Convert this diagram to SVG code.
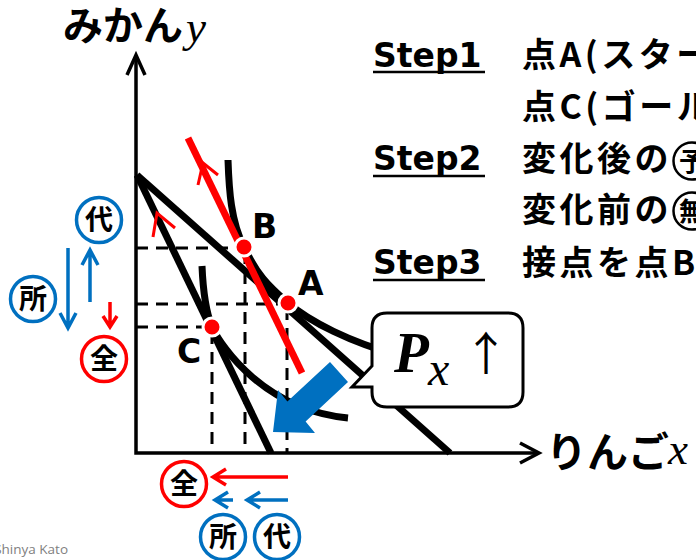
<svg xmlns="http://www.w3.org/2000/svg" width="696" height="560" viewBox="0 0 696 560">
<defs>
<style>
.ax{stroke:#000;stroke-width:3.5;fill:none}
.thick{stroke:#000;stroke-width:7;fill:none}
.dash{stroke:#000;stroke-width:3;stroke-dasharray:12 8;fill:none}
.rl{stroke:#FF0000;fill:none}
.bl{stroke:#0070C0;fill:none}
.step{font-family:"DejaVu Sans","Verdana",sans-serif;font-weight:bold;font-size:33px;fill:#000}
.row{font-family:"Noto Sans CJK JP",sans-serif;font-weight:bold;font-size:34px;letter-spacing:3.5px;fill:#000}
.lbl{font-family:"DejaVu Sans",sans-serif;font-weight:bold;font-size:33px;fill:#000}
.ctext{font-family:"Noto Sans CJK JP",sans-serif;font-weight:bold;font-size:28px;text-anchor:middle;fill:#000}
.dot{fill:#FF0000;stroke:#fff;stroke-width:3}
</style>
</defs>
<rect width="696" height="560" fill="#fff"/>

<g id="guides">
<path class="dash" d="M136,248 H240 M136,304 H284 M136,327 H208 M212,332 V453 M245,252 V453 M287,308 V453"/>
</g>

<g id="axes">
<path class="ax" d="M136,56 V453 H538"/>
<path class="ax" d="M127,75 L136,55 L145,75"/>
<path class="ax" d="M520,443 L539,453 L520,463"/>
<text x="63" y="40" font-family="'Noto Sans CJK JP',sans-serif" font-weight="bold" font-size="40">みかん</text>
<text x="186" y="42" font-family="'Liberation Serif',serif" font-style="italic" font-size="45">y</text>
<text x="546" y="467" font-family="'Noto Sans CJK JP',sans-serif" font-weight="bold" font-size="41">りんご</text>
<text x="668" y="464" font-family="'Liberation Serif',serif" font-style="italic" font-size="45">x</text>
</g>

<g id="connectors">
<path id="budget1" class="thick" d="M137,175 L450,453"/>
<path id="budget2" class="thick" d="M137,175 L271,453"/>
<path id="u0" class="thick" d="M228,160 C229,190 231,222 244,247 C257,274 266,284 288,303 C310,322 350,342 400,356"/>
<path id="u1" class="thick" d="M202,266 C203,290 206,312 212,327 C222,348 265,410 348,418"/>
<path id="compensated" class="rl" stroke-width="7" d="M188,138 L302,373"/>
<polyline class="rl" stroke-width="3" points="153,237 157,213 175,228"/>
<polyline class="rl" stroke-width="3" points="198,185 203,163 218,175"/>
<polygon id="shift-arrow" fill="#0070C0" points="330,362 348,382 305.6,421.5 315,433 273,432 278,390 287.4,401.5"/>
</g>

<g id="pointB"><circle class="dot" cx="244" cy="247" r="9"/><text class="lbl" x="252" y="238">B</text></g>
<g id="pointA"><circle class="dot" cx="288" cy="303" r="9"/><text class="lbl" x="298" y="295">A</text></g>
<g id="pointC"><circle class="dot" cx="212" cy="327" r="9"/><text class="lbl" x="177" y="363">C</text></g>

<g id="callout">
<path d="M387,313 H508 Q523,313 523,328 V392 Q523,407 508,407 H387 Q372,407 372,392 V387 L352,387 L372,366 V328 Q372,313 387,313 Z" fill="#fff" stroke="#000" stroke-width="3"/>
<text x="394" y="372" font-family="'Liberation Serif',serif" font-style="italic" font-weight="bold" font-size="57">P</text>
<text x="428" y="385" font-family="'Liberation Serif',serif" font-style="italic" font-size="48">x</text>
<text x="486" y="370" text-anchor="middle" font-family="'Noto Sans CJK JP',sans-serif" font-size="46">↑</text>
</g>

<g id="steps">
<text class="step" x="373" y="67">Step1</text>
<line x1="373" y1="72" x2="485" y2="72" stroke="#000" stroke-width="2.5"/>
<text class="step" x="373" y="170">Step2</text>
<line x1="373" y1="176" x2="485" y2="176" stroke="#000" stroke-width="2.5"/>
<text class="step" x="373" y="274">Step3</text>
<line x1="373" y1="280" x2="485" y2="280" stroke="#000" stroke-width="2.5"/>
<text class="row" x="522" y="67">点A(スター</text>
<text class="row" x="522" y="119">点C(ゴール</text>
<text class="row" x="522" y="171">変化後の</text>
<circle cx="692" cy="161" r="18.5" fill="#fff" stroke="#000" stroke-width="2.5"/>
<text x="692" y="171" font-family="'Noto Sans CJK JP',sans-serif" font-weight="bold" font-size="26" text-anchor="middle">予</text>
<text class="row" x="522" y="222">変化前の</text>
<circle cx="692" cy="211" r="18.5" fill="#fff" stroke="#000" stroke-width="2.5"/>
<text x="692" y="221" font-family="'Noto Sans CJK JP',sans-serif" font-weight="bold" font-size="26" text-anchor="middle">無</text>
<text class="row" x="522" y="275">接点を点B</text>
</g>

<g id="y-effects">
<circle cx="99" cy="220" r="22.5" fill="#fff" stroke="#0070C0" stroke-width="3.5"/>
<text class="ctext" x="99" y="230">代</text>
<circle cx="33" cy="299" r="22.5" fill="#fff" stroke="#0070C0" stroke-width="3.5"/>
<text class="ctext" x="33" y="309">所</text>
<circle cx="104" cy="359" r="22.5" fill="#fff" stroke="#FF0000" stroke-width="3.5"/>
<text class="ctext" x="104" y="369">全</text>
<path class="bl" stroke-width="3.5" d="M68,248 V327 M60,313 L68,328 L76,313"/>
<path class="bl" stroke-width="3.5" d="M90,302 V251 M82,265 L90,250 L98,265"/>
<path class="rl" stroke-width="3.5" d="M110,302 V326 M103,316 L110,327 L117,316"/>
</g>

<g id="x-effects">
<circle cx="184" cy="484" r="22.5" fill="#fff" stroke="#FF0000" stroke-width="3.5"/>
<text class="ctext" x="184" y="494">全</text>
<circle cx="223" cy="537" r="22.5" fill="#fff" stroke="#0070C0" stroke-width="3.5"/>
<text class="ctext" x="223" y="547">所</text>
<circle cx="277" cy="537" r="22.5" fill="#fff" stroke="#0070C0" stroke-width="3.5"/>
<text class="ctext" x="277" y="547">代</text>
<path class="rl" stroke-width="3.5" d="M288,477 H214 M226,469 L213,477 L226,485"/>
<path class="bl" stroke-width="3.5" d="M233,500 H216 M228,492 L215,500 L228,508"/>
<path class="bl" stroke-width="3.5" d="M288,500 H248 M260,492 L247,500 L260,508"/>
</g>

<text x="68" y="554" text-anchor="end" font-family="'Open Sans',sans-serif" font-size="13.5" fill="#7f7f7f">Shinya Kato</text>
</svg>
